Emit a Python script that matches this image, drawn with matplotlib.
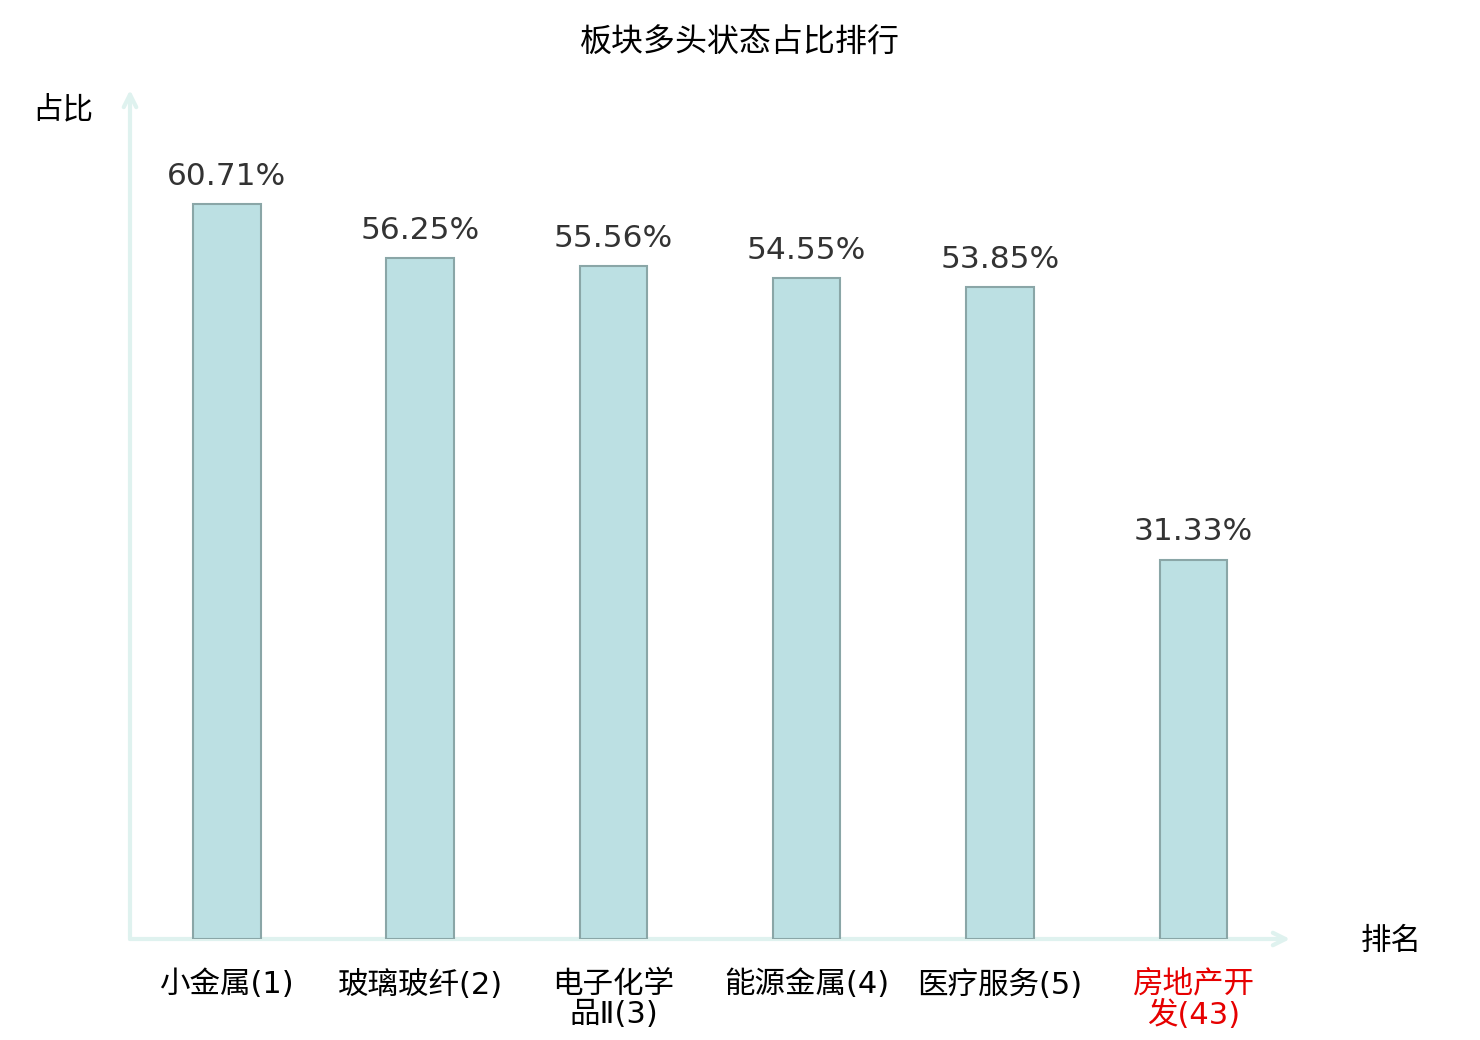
import matplotlib
matplotlib.use("Agg")
import matplotlib.pyplot as plt

plt.rcParams["font.family"] = ["Noto Sans CJK SC", "DejaVu Sans"]

# data
categories = ["小金属(1)", "玻璃玻纤(2)", "电子化学\n品Ⅱ(3)", "能源金属(4)",
              "医疗服务(5)", "房地产开\n发(43)"]
values = [60.71, 56.25, 55.56, 54.55, 53.85, 31.33]
label_colors = ["#000000"] * 5 + ["#e60000"]

BAR = "#bce0e3"
EDGE = "#8aa6a7"
AXIS = "#dff2ef"

fig = plt.figure(figsize=(14.8, 10.4), dpi=100)
ax = fig.add_axes([130 / 1480, 101 / 1040, 1160 / 1480, 849 / 1040])

x = list(range(len(categories)))
ax.bar(x, values, width=0.35, color=BAR, edgecolor=EDGE, linewidth=1.5, zorder=2)
ax.set_xlim(-0.5, len(categories) - 0.5)
ax.set_ylim(0, 70.1)

for xi, v in zip(x, values):
    ax.annotate(f"{v:.2f}%", (xi, v), xytext=(0, 9.5), textcoords="offset points",
                ha="center", va="bottom", fontsize=22.5, color="#333333",
                family="DejaVu Sans")

# axes drawn as arrows
for s in ax.spines.values():
    s.set_visible(False)
ax.set_yticks([])
ax.set_xticks(x)
ax.set_xticklabels(categories, fontsize=22, linespacing=1.07,
                   family=["DejaVu Sans", "Noto Sans CJK SC"])
for lbl, c in zip(ax.get_xticklabels(), label_colors):
    lbl.set_color(c)
ax.tick_params(axis="x", length=0, pad=22)

arrow = dict(arrowstyle="->,head_length=0.9,head_width=0.45",
             color=AXIS, lw=3, shrinkA=0, shrinkB=0)
ax.annotate("", xy=(1.0, 0), xytext=(0, 0), xycoords="axes fraction",
            arrowprops=arrow, zorder=1)
ax.annotate("", xy=(0, 1.0), xytext=(0, 0), xycoords="axes fraction",
            arrowprops=arrow, zorder=1)

fig.text(63 / 1480, 1 - 110 / 1040, "占比", ha="center", va="center", fontsize=22)
fig.text(1391 / 1480, 1 - 941 / 1040, "排名", ha="center", va="center", fontsize=22)
fig.text(740 / 1480, 1 - 43 / 1040, "板块多头状态占比排行", ha="center", va="center",
         fontsize=23)

fig.savefig("out.png", dpi=100)
